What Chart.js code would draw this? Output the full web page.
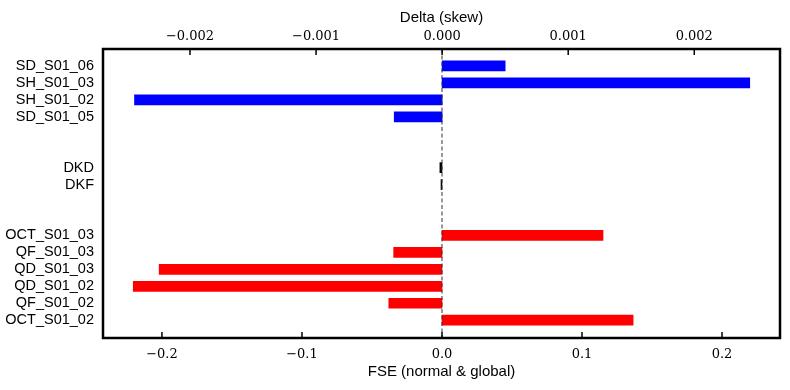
<!DOCTYPE html>
<html>
<head>
<meta charset="utf-8">
<script src="https://cdn.jsdelivr.net/npm/chart.js@4/dist/chart.umd.min.js"></script>
<style>
  html, body { margin: 0; padding: 0; background: #fff; }
  #wrap { width: 790px; height: 390px; }
</style>
</head>
<body>
<div id="wrap"><canvas id="barChart"></canvas></div>
<script>
// row labels, top to bottom ("" = empty row)
const categories = [
  "SD_S01_06", "SH_S01_03", "SH_S01_02", "SD_S01_05", "", "",
  "DKD", "DKF", "", "",
  "OCT_S01_03", "QF_S01_03", "QD_S01_03", "QD_S01_02", "QF_S01_02", "OCT_S01_02",
];

// skew magnets (top axis)
const skewNames = ["SD_S01_06", "SH_S01_03", "SH_S01_02", "SD_S01_05"];
const skewValues = [0.0005, 0.00244, -0.00244, -0.00038];

// FSE of the normal magnets (bottom axis)
const fseNames = ["OCT_S01_03", "QF_S01_03", "QD_S01_03", "QD_S01_02", "QF_S01_02", "OCT_S01_02"];
const fseValues = [0.115, -0.0345, -0.202, -0.2205, -0.038, 0.1365];

// global knobs
const globalNames = ["DKD", "DKF"];
const globalValues = [-0.0015, -0.0007];

const fseTicks = [-0.2, -0.1, 0.0, 0.1, 0.2];
const skewTicks = [-0.002, -0.001, 0.0, 0.001, 0.002];

function points(names, values) {
  return names.map((n, i) => ({ x: values[i], y: categories.indexOf(n) }));
}

function fmt(v, digits) {
  const s = Math.abs(v).toFixed(digits);
  return v < -1e-12 ? "\u2212" + s : s;
}

const framePlugin = {
  id: "frame",
  afterDatasetsDraw(chart) {
    const { ctx, chartArea } = chart;
    const x0 = chart.scales.x.getPixelForValue(0);
    ctx.save();
    ctx.strokeStyle = "#333";
    ctx.lineWidth = 1;
    ctx.setLineDash([4, 2.5]);
    ctx.beginPath();
    ctx.moveTo(x0, chartArea.top);
    ctx.lineTo(x0, chartArea.bottom);
    ctx.stroke();
    ctx.restore();
  },
  afterDraw(chart) {
    const { ctx, chartArea } = chart;
    ctx.save();
    ctx.strokeStyle = "#000";
    ctx.lineWidth = 1.5;
    chart.scales.x.ticks.forEach((t) => {
      const px = chart.scales.x.getPixelForValue(t.value);
      ctx.beginPath();
      ctx.moveTo(px, chartArea.bottom);
      ctx.lineTo(px, chartArea.bottom - 6);
      ctx.stroke();
    });
    chart.scales.x2.ticks.forEach((t) => {
      const px = chart.scales.x2.getPixelForValue(t.value);
      ctx.beginPath();
      ctx.moveTo(px, chartArea.top);
      ctx.lineTo(px, chartArea.top + 6);
      ctx.stroke();
    });
    ctx.lineWidth = 2.5;
    ctx.strokeRect(chartArea.left, chartArea.top, chartArea.right - chartArea.left, chartArea.bottom - chartArea.top);
    ctx.restore();
  },
};

const serif = { family: "DejaVu Serif", size: 13 };
const sans = { family: "Liberation Sans", size: 14.5 };

new Chart(document.getElementById("barChart"), {
  type: "bar",
  data: {
    datasets: [
      {
        label: "skew",
        data: points(skewNames, skewValues),
        xAxisID: "x2",
        backgroundColor: "#0000ff",
      },
      {
        label: "FSE",
        data: points(fseNames, fseValues),
        xAxisID: "x",
        backgroundColor: "#ff0000",
      },
      {
        label: "global",
        data: points(globalNames, globalValues),
        xAxisID: "x",
        backgroundColor: "#000000",
      },
    ],
  },
  options: {
    indexAxis: "y",
    responsive: true,
    maintainAspectRatio: false,
    animation: false,
    datasets: {
      bar: { barThickness: 10, grouped: false, borderWidth: 0 },
    },
    layout: { padding: { left: 0, right: 10, top: 0, bottom: 0 } },
    plugins: {
      legend: { display: false },
      tooltip: { enabled: false },
    },
    scales: {
      y: {
        type: "linear",
        position: "left",
        reverse: true,
        offset: false,
        min: -1,
        max: 16.05,
        grid: { display: false },
        border: { display: false },
        afterBuildTicks: (scale) => {
          scale.ticks = categories
            .map((c, i) => ({ value: i, c: c }))
            .filter((t) => t.c !== "")
            .map((t) => ({ value: t.value }));
        },
        afterFit: (scale) => {
          scale.width = 103;
        },
        ticks: {
          autoSkip: false,
          padding: 1,
          color: "#000",
          font: sans,
          callback: (v) => categories[v],
        },
      },
      x: {
        type: "linear",
        position: "bottom",
        min: -0.2421,
        max: 0.2414,
        grid: { display: false },
        border: { display: false },
        afterBuildTicks: (scale) => {
          scale.ticks = fseTicks.map((v) => ({ value: v }));
        },
        afterFit: (scale) => {
          scale.height = 52;
        },
        ticks: {
          autoSkip: false,
          maxRotation: 0,
          padding: 1,
          color: "#000",
          font: serif,
          callback: (v) => fmt(v, 1),
        },
        title: {
          display: true,
          text: "FSE (normal & global)",
          color: "#000",
          font: { family: "Liberation Sans", size: 15 },
          padding: { top: 2, bottom: 9 },
        },
      },
      x2: {
        type: "linear",
        position: "top",
        min: -0.00269,
        max: 0.00268,
        grid: { display: false },
        border: { display: false },
        afterBuildTicks: (scale) => {
          scale.ticks = skewTicks.map((v) => ({ value: v }));
        },
        afterFit: (scale) => {
          scale.height = 49;
        },
        ticks: {
          autoSkip: false,
          maxRotation: 0,
          padding: -3,
          color: "#000",
          font: serif,
          callback: (v) => fmt(v, 3),
        },
        title: {
          display: true,
          text: "Delta (skew)",
          color: "#000",
          font: { family: "Liberation Sans", size: 15 },
          padding: { top: 9, bottom: 2 },
        },
      },
    },
  },
  plugins: [framePlugin],
});
</script>
</body>
</html>
